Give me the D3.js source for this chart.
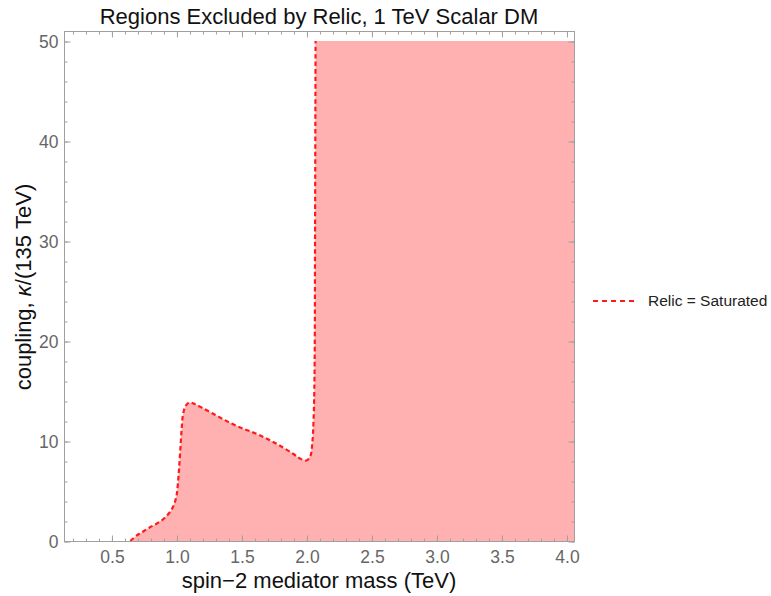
<!DOCTYPE html>
<html>
<head>
  <title>Regions Excluded by Relic</title>
  <style>
    body { margin: 0; background: #fff; }
    svg text { font-family: "Liberation Sans", Arial, sans-serif; }
    .frame { fill: none; stroke: #a0a0a0; stroke-width: 1px; }
    .tick-label { fill: #666; }
  </style>
  <script src="https://d3js.org/d3.v7.min.js"></script>
</head>
<body>
  <svg id="chart" width="771" height="596"></svg>

  <script>
    // boundary of the relic-saturated region
    const massTeV = [0.645, 0.70, 0.75, 0.80, 0.85, 0.90, 0.95, 0.98, 1.00, 1.01, 1.02, 1.03, 1.04, 1.05, 1.07,
      1.10, 1.14, 1.20, 1.30, 1.40, 1.50, 1.60, 1.70, 1.80, 1.90, 1.95, 2.00, 2.03, 2.045, 2.055, 2.062, 2.066, 2.07];
    const coupling = [0.0, 0.6, 1.0, 1.4, 1.75, 2.2, 2.9, 3.6, 4.5, 5.6, 7.2, 9.2, 11.2, 12.6, 13.5,
      13.85, 13.7, 13.3, 12.6, 11.9, 11.3, 10.8, 10.2, 9.5, 8.7, 8.25, 8.05, 8.5, 9.8, 12.2, 16.5, 30, 50];
    const couplingMax = 50;   // scan stops at kappa = 50

    const xMajor = [0.5, 1.0, 1.5, 2.0, 2.5, 3.0, 3.5, 4.0];
    const yMajor = [0, 10, 20, 30, 40, 50];

    const svg = d3.select('#chart');
    const mLeft = 64, mRight = 574, mTop = 31, mBottom = 541;

    const x = d3.scaleLinear().domain([0.135, 4.058]).range([mLeft, mRight]);
    const y = d3.scaleLinear().domain([0, 51]).range([mBottom, mTop]);

    const pts = massTeV.map((m, i) => [m, coupling[i]]);

    // filled excluded region
    const poly = pts.concat([[x.domain()[1], couplingMax], [x.domain()[1], 0]]);
    svg.append('path')
      .attr('d', d3.line().x(d => x(d[0])).y(d => y(d[1]))(poly) + 'Z')
      .attr('fill', '#ffb1b1');

    // dashed boundary
    svg.append('path')
      .attr('d', d3.line().x(d => x(d[0])).y(d => y(d[1])).curve(d3.curveCatmullRom.alpha(0.5))(pts))
      .attr('fill', 'none')
      .attr('stroke', '#ff1a1a')
      .attr('stroke-width', 2.2)
      .attr('stroke-dasharray', '4.5,3');

    // frame
    svg.append('rect').attr('class', 'frame')
      .attr('x', mLeft + 0.5).attr('y', mTop + 0.5)
      .attr('width', mRight - mLeft).attr('height', mBottom - mTop);

    const xMinor = d3.range(0.2, 4.05, 0.1).map(v => +v.toFixed(1));
    const yMinor = d3.range(0, 51, 2);

    function ticks(axis, scale, vals, len, fmt) {
      return axis(scale).tickValues(vals).tickSize(len).tickSizeOuter(0)
        .tickFormat(fmt || (() => ''));
    }
    function styleAxis(g) {
      g.select('.domain').remove();
      g.selectAll('line').attr('stroke', '#a0a0a0');
    }

    // bottom
    svg.append('g').attr('transform', `translate(0.5,${mBottom + 0.5})`)
      .call(ticks(d3.axisTop, x, xMinor, 3)).call(styleAxis);
    const bx = svg.append('g').attr('transform', `translate(0.5,${mBottom + 0.5})`)
      .call(ticks(d3.axisTop, x, xMajor, 6, d3.format('.1f'))).call(styleAxis);
    bx.selectAll('text').attr('class', 'tick-label').attr('y', 21.5).attr('dy', null)
      .attr('font-size', 17.5);
    // top
    svg.append('g').attr('transform', `translate(0.5,${mTop + 0.5})`)
      .call(ticks(d3.axisBottom, x, xMinor, 3)).call(styleAxis);
    svg.append('g').attr('transform', `translate(0.5,${mTop + 0.5})`)
      .call(ticks(d3.axisBottom, x, xMajor, 6)).call(styleAxis);
    // left
    svg.append('g').attr('transform', `translate(${mLeft + 0.5},0.5)`)
      .call(ticks(d3.axisRight, y, yMinor, 3)).call(styleAxis);
    const ly = svg.append('g').attr('transform', `translate(${mLeft + 0.5},0.5)`)
      .call(ticks(d3.axisRight, y, yMajor, 6, d3.format('d'))).call(styleAxis);
    ly.selectAll('text').attr('class', 'tick-label').attr('x', -6).attr('text-anchor', 'end')
      .attr('dy', '0.35em').attr('font-size', 17.5);
    // right
    svg.append('g').attr('transform', `translate(${mRight + 0.5},0.5)`)
      .call(ticks(d3.axisLeft, y, yMinor, 3)).call(styleAxis);
    svg.append('g').attr('transform', `translate(${mRight + 0.5},0.5)`)
      .call(ticks(d3.axisLeft, y, yMajor, 6)).call(styleAxis);

    // title and axis labels
    svg.append('text').attr('x', 319).attr('y', 24).attr('text-anchor', 'middle')
      .attr('font-size', 22).attr('fill', '#111')
      .text('Regions Excluded by Relic, 1 TeV Scalar DM');

    svg.append('text').attr('x', 319).attr('y', 588).attr('text-anchor', 'middle')
      .attr('font-size', 22).attr('fill', '#111')
      .text('spin\u22122 mediator mass (TeV)');

    const yl = svg.append('text').attr('transform', 'translate(31,287) rotate(-90)')
      .attr('text-anchor', 'middle').attr('font-size', 22).attr('fill', '#111');
    yl.append('tspan').text('coupling, ');
    yl.append('tspan').attr('font-style', 'italic').text('\u03BA');
    yl.append('tspan').text('/(135 TeV)');

    // legend
    const lg = svg.append('g').attr('transform', 'translate(593,301)');
    lg.append('line').attr('x1', 0).attr('x2', 45).attr('y1', 0).attr('y2', 0)
      .attr('stroke', '#ff1a1a').attr('stroke-width', 2).attr('stroke-dasharray', '5,4');
    lg.append('text').attr('x', 55).attr('y', 0).attr('dy', '0.35em')
      .attr('font-size', 15.5).attr('fill', '#222').text('Relic = Saturated');
  </script>
</body>
</html>
